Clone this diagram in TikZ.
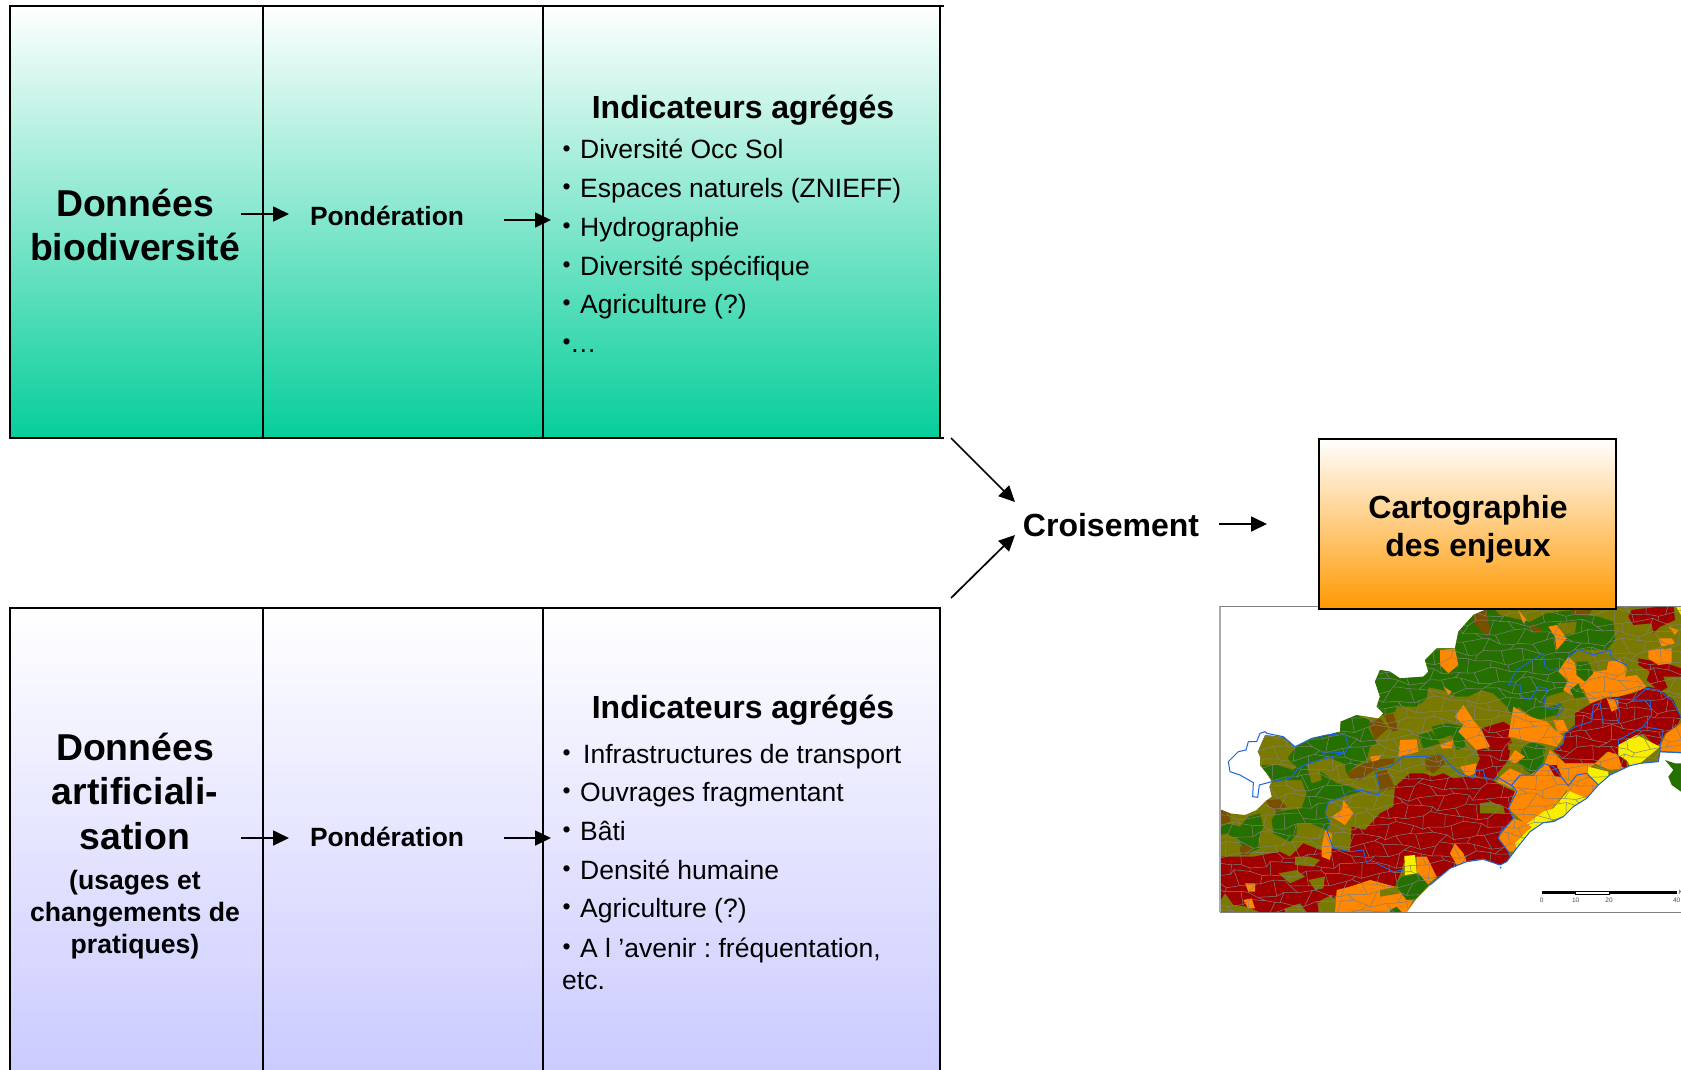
\documentclass[tikz,border=0pt]{standalone}
\usepackage{fontspec}
\setmainfont{Liberation Sans}
\frenchspacing
\usetikzlibrary{arrows.meta}
\definecolor{gbot}{RGB}{6,206,154}
\definecolor{vbot}{RGB}{203,203,255}
\definecolor{obot}{RGB}{255,153,0}
\definecolor{mgreen}{RGB}{38,112,0}
\definecolor{mred}{RGB}{160,0,0}
\definecolor{morange}{RGB}{255,136,0}
\definecolor{myellow}{RGB}{248,238,0}
\definecolor{mbrown}{RGB}{122,80,0}
\definecolor{molive}{RGB}{122,122,0}
\definecolor{mblue}{RGB}{26,102,224}
\pgfdeclareverticalshading{fadegreen}{100bp}{color(0bp)=(gbot); color(25bp)=(gbot); color(75bp)=(white); color(100bp)=(white)}
\pgfdeclareverticalshading{fadeviolet}{100bp}{color(0bp)=(vbot); color(25bp)=(vbot); color(75bp)=(white); color(100bp)=(white)}
\pgfdeclareverticalshading{fadeorange}{100bp}{color(0bp)=(obot); color(25bp)=(obot); color(75bp)=(white); color(100bp)=(white)}
\newcommand{\puce}[1][18pt]{\makebox[#1][l]{\hspace{.5pt}\raisebox{2.4pt}{\fontsize{23}{23}\selectfont •}}}
\newcommand{\landpath}{(30,628)--(60,640)--(105,645)--(140,630)--(165,605)--(185,590)--(178,560)--(185,545)--(170,520)--(150,495)--(150,470)--(143,455)--(165,405)--(220,410)--(255,440)--(305,415)--(350,405)--(390,395)--(392,365)--(440,345)--(505,355)--(520,340)--(500,320)--(510,290)--(495,245)--(510,210)--(540,215)--(570,235)--(640,230)--(655,215)--(645,180)--(680,145)--(735,145)--(745,95)--(790,45)--(825,30)--(835,15)--(1413,15)--(1413,458)--(1350,455)--(1345,485)--(1290,490)--(1260,497)--(1200,525)--(1165,555)--(1130,595)--(1090,620)--(1060,650)--(1030,665)--(1000,668)--(960,695)--(920,745)--(890,785)--(870,795)--(820,778)--(770,785)--(720,805)--(660,855)--(620,895)--(590,937)--(30,937)--cycle}
\tikzset{
  big/.style={font=\fontsize{37.4}{44.5}\selectfont\bfseries,align=center,inner sep=0pt},
  mid/.style={font=\fontsize{32}{38}\selectfont\bfseries,align=center,inner sep=0pt},
  pond/.style={font=\fontsize{26.4}{30}\selectfont\bfseries,inner sep=0pt},
  sub/.style={font=\fontsize{26.6}{32}\selectfont\bfseries,align=center,inner sep=0pt},
  item/.style={font=\fontsize{26.5}{32}\selectfont,anchor=base west,inner sep=0pt,align=left},
  flow/.style={line width=1.7pt,-{Triangle[length=16pt,width=15pt]}},
  thinrule/.style={line width=1.1pt,black},
  thickrule/.style={line width=2pt,black},
  mg/.style={fill=mgreen},mr/.style={fill=mred},mo/.style={fill=morange},
  my/.style={fill=myellow},mb/.style={fill=mbrown},ml/.style={fill=molive},
  bluebd/.style={draw=mblue,line width=1pt,line join=round},
}
\begin{document}
\begin{tikzpicture}[x=1pt,y=-1pt,
  declare function={mx(\a,\b)=\a*34+11*sin(\a*131+\b*77)+7*cos(\a*47-\b*191);
                    my(\a,\b)=\b*29+9*sin(\a*53+\b*211)+5*cos(\a*241+\b*29);}]
\clip (0,0) rectangle (1681,1069);
\fill[white] (0,0) rectangle (1681,1069);

% top panel
\shade[shading=fadegreen] (10,6) rectangle (940,438);
\draw[thinrule] (940,6) -- (10,6) -- (10,438) -- (543,438);
\draw[thinrule] (940,6) -- (940,438);
\draw[thinrule,line width=1.6pt] (263,6) -- (263,438);
\draw[thickrule] (543,6) -- (543,438);
\draw[thickrule] (543,6) -- (944,6);
\draw[thickrule] (543,438) -- (944,438);

% bottom panel
\shade[shading=fadeviolet] (10,608) rectangle (940,1069);
\draw[thinrule] (10,1075) -- (10,608) -- (940,608) -- (940,1075);
\draw[thinrule,line width=1.6pt] (263,608) -- (263,1075);
\draw[thinrule,line width=2pt] (543,608) -- (543,1075);

% map
\fill[white] (1220,606) rectangle (1685,912);
\begin{scope}[shift={(1210,600)},x=.33333pt,y=-.33333pt]
\begin{scope}
\clip (30,19) rectangle (1420,937);
\fill[molive] \landpath;
\fill[mg] (1365,480)--(1395,490)--(1413,490)--(1413,575)--(1385,555)--(1375,530)--(1390,510)--cycle;
\begin{scope}
\clip \landpath;
% greens
\fill[mg] (830,15)--(790,45)--(745,95)--(735,145)--(680,145)--(645,180)--(655,215)--(640,230)--(570,235)--(540,215)--(510,210)--(495,245)--(510,290)--(500,320)--(515,345)--(555,335)--(560,320)--(620,320)--(650,295)--(655,262)--(700,270)--(735,290)--(775,290)--(815,270)--(850,280)--(890,320)--(910,350)--(925,320)--(980,360)--(1040,345)--(1055,310)--(1000,325)--(1010,290)--(1060,275)--(1075,250)--(1045,215)--(1060,190)--(1080,170)--(1105,148)--(1190,150)--(1215,120)--(1210,65)--(1165,50)--(1120,45)--(1090,30)--(1010,40)--(960,65)--(870,45)--(850,25)--cycle;
\fill[mg] (235,470)--(260,440)--(310,415)--(390,395)--(392,365)--(440,345)--(480,360)--(475,385)--(500,430)--(480,440)--(470,480)--(440,495)--(410,520)--(400,490)--(350,470)--(300,490)--(260,500)--(235,480)--cycle;
\fill[mg] (150,495)--(200,495)--(250,510)--(270,490)--(300,500)--(340,520)--(380,550)--(420,560)--(450,575)--(400,590)--(355,605)--(345,640)--(360,665)--(350,690)--(300,670)--(260,670)--(260,700)--(240,725)--(190,700)--(185,660)--(200,635)--(275,625)--(290,580)--(275,540)--(230,540)--(190,545)--cycle;
\fill[mg] (30,680)--(50,670)--(90,680)--(115,650)--(150,640)--(160,680)--(145,720)--(150,745)--(110,760)--(85,720)--(50,700)--(30,705)--cycle;
\fill[mg] (665,380)--(710,370)--(765,380)--(765,440)--(740,450)--(725,405)--(680,420)--cycle;
\fill[mg] (625,405)--(665,395)--(690,430)--(640,445)--cycle;
\fill[mg] (935,445)--(965,425)--(1005,440)--(1000,485)--(965,525)--(925,490)--cycle;
% browns
\fill[mb] (790,40)--(830,30)--(840,100)--(820,100)--(790,65)--cycle;
\fill[mb] (890,30)--(930,45)--(940,35)--(900,25)--cycle;
\fill[mb] (960,70)--(1000,90)--(975,100)--cycle;
\fill[mb] (1080,20)--(1145,30)--(1135,50)--(1085,40)--cycle;
\fill[mb] (475,370)--(510,355)--(535,385)--(495,420)--cycle;
\fill[mb] (520,345)--(550,340)--(565,390)--(545,395)--cycle;
\fill[mb] (410,520)--(480,480)--(555,475)--(550,490)--(500,505)--(450,540)--(420,535)--cycle;
\fill[mb] (500,515)--(530,510)--(555,565)--(510,575)--cycle;
\fill[mb] (645,475)--(690,465)--(705,490)--(670,520)--(650,510)--cycle;
\fill[mb] (30,628)--(60,640)--(60,665)--(30,675)--cycle;
\fill[mb] (165,600)--(205,595)--(230,620)--(200,635)--(180,620)--cycle;
\fill[mb] (90,740)--(125,735)--(120,765)--(90,765)--cycle;
% olive on green
\fill[ml] (870,45)--(960,65)--(1005,40)--(960,25)--(880,25)--cycle;
\fill[ml] (1040,70)--(1100,65)--(1095,100)--(1060,105)--cycle;
\fill[ml] (290,495)--(325,495)--(335,540)--(305,550)--cycle;
\fill[ml] (360,490)--(405,495)--(410,550)--(375,545)--cycle;
% reds
\fill[mr] (425,680)--(465,690)--(510,640)--(550,620)--(555,560)--(600,520)--(640,520)--(670,530)--(700,520)--(730,535)--(770,530)--(810,535)--(845,540)--(880,560)--(915,575)--(895,625)--(910,655)--(870,700)--(865,715)--(895,755)--(900,780)--(880,800)--(820,775)--(760,785)--(690,835)--(675,830)--(650,790)--(620,770)--(580,790)--(575,810)--(555,860)--(480,840)--(420,860)--(375,890)--(330,937)--(230,937)--(30,937)--(30,770)--(100,770)--(130,770)--(210,755)--(240,770)--(280,730)--(330,750)--(370,745)--(420,755)--cycle;
\fill[mr] (815,385)--(880,365)--(905,380)--(895,405)--(905,425)--(895,480)--(870,510)--(850,540)--(800,530)--(795,510)--(810,475)--(795,440)--(840,450)--cycle;
\fill[mr] (1095,340)--(1145,310)--(1185,295)--(1225,290)--(1270,280)--(1310,260)--(1345,265)--(1390,300)--(1413,350)--(1400,380)--(1365,400)--(1350,430)--(1335,440)--(1305,405)--(1280,405)--(1225,440)--(1225,465)--(1190,455)--(1155,490)--(1100,490)--(1065,490)--(1030,450)--(1060,430)--(1065,400)--(1095,375)--cycle;
\fill[mr] (1255,50)--(1265,30)--(1390,15)--(1395,60)--(1350,80)--(1330,100)--(1325,70)--(1270,75)--cycle;
\fill[mr] (1285,175)--(1340,185)--(1385,195)--(1413,205)--(1413,240)--(1385,255)--(1350,275)--(1310,240)--(1320,215)--(1285,195)--cycle;
% olive patches
\fill[ml] (810,610)--(840,605)--(880,620)--(885,640)--(810,640)--cycle;
\fill[ml] (255,770)--(300,770)--(330,780)--(310,800)--(255,795)--cycle;
\fill[ml] (205,820)--(260,810)--(285,830)--(240,850)--cycle;
\fill[ml] (295,840)--(345,830)--(340,865)--(315,870)--cycle;
\fill[ml] (30,905)--(45,880)--(70,915)--(110,920)--(150,937)--(30,937)--cycle;
\fill[ml] (325,905)--(365,885)--(385,937)--(325,937)--cycle;
\fill[ml] (225,925)--(270,910)--(290,937)--(225,937)--cycle;
\fill[ml] (895,430)--(935,430)--(920,450)--(895,450)--cycle;
\fill[ml] (1360,230)--(1413,230)--(1413,300)--(1380,280)--cycle;
% oranges
\fill[mo] (690,150)--(735,145)--(745,195)--(715,220)--(690,195)--cycle;
\fill[mo] (700,260)--(725,275)--(715,285)--cycle;
\fill[mo] (925,30)--(950,60)--(940,70)--cycle;
\fill[mo] (1015,80)--(1040,75)--(1070,115)--(1040,150)--(1035,110)--cycle;
\fill[mo] (1375,80)--(1405,90)--(1395,105)--cycle;
\fill[mo] (1345,115)--(1385,115)--(1395,130)--(1355,140)--cycle;
\fill[mo] (1315,150)--(1385,145)--(1385,190)--(1345,195)--(1315,175)--cycle;
\fill[mo] (1045,215)--(1075,170)--(1095,190)--(1100,225)--(1120,240)--(1150,215)--(1190,210)--(1195,185)--(1230,180)--(1250,205)--(1245,230)--(1280,225)--(1310,260)--(1290,270)--(1225,290)--(1190,290)--(1140,310)--(1120,265)--(1085,285)--(1060,270)--(1075,240)--cycle;
\fill[mg] (1100,185)--(1135,185)--(1150,220)--(1125,245)--(1100,225)--cycle;
\fill[mg] (1080,270)--(1105,250)--(1125,290)--(1095,295)--cycle;
\fill[mo] (1190,295)--(1225,300)--(1225,325)--(1205,335)--cycle;
\fill[mo] (1155,490)--(1195,455)--(1225,465)--(1240,505)--(1200,510)--cycle;
\fill[mo] (1350,440)--(1370,400)--(1413,370)--(1413,458)--(1350,455)--cycle;
\fill[mo] (915,575)--(905,550)--(930,525)--(960,525)--(1000,500)--(1020,450)--(1065,490)--(1100,490)--(1155,490)--(1130,510)--(1165,555)--(1130,595)--(1090,590)--(1070,570)--(1040,610)--(1020,630)--(950,675)--(900,630)--(895,625)--cycle;
\fill[mo] (890,680)--(910,655)--(965,675)--(910,755)--(895,755)--(865,715)--cycle;
\fill[mo] (870,530)--(900,505)--(945,525)--(905,565)--(860,545)--cycle;
\fill[mo] (760,315)--(790,360)--(810,385)--(840,440)--(800,450)--(770,420)--(745,395)--(760,375)--(735,350)--cycle;
\fill[mo] (910,320)--(960,350)--(1010,365)--(1035,390)--(1060,410)--(1040,440)--(1000,430)--(960,425)--(895,410)--cycle;
\fill[mo] (1030,360)--(1060,360)--(1075,395)--(1045,400)--cycle;
\fill[mo] (895,480)--(915,450)--(945,470)--(915,490)--cycle;
\fill[mo] (750,500)--(800,490)--(795,520)--(770,530)--cycle;
\fill[mo] (690,435)--(730,420)--(725,445)--(695,445)--cycle;
\fill[mo] (570,420)--(620,418)--(625,455)--(565,470)--cycle;
\fill[mo] (480,470)--(515,465)--(505,480)--(485,485)--cycle;
\fill[mo] (345,690)--(365,700)--(365,750)--(360,780)--(335,770)--(335,740)--cycle;
\fill[mo] (400,600)--(430,640)--(405,675)--(365,650)--(395,630)--cycle;
\fill[mo] (105,850)--(135,850)--(135,875)--(115,875)--cycle;
\fill[mo] (100,900)--(125,895)--(135,925)--(115,925)--cycle;
\fill[mo] (620,770)--(650,770)--(680,830)--(650,855)--(620,820)--cycle;
\fill[mo] (735,730)--(760,760)--(770,785)--(740,795)--(720,760)--cycle;
\fill[mo] (380,870)--(420,860)--(480,840)--(555,860)--(590,900)--(610,900)--(590,937)--(375,937)--cycle;
\fill[ml] (510,870)--(560,860)--(570,880)--(510,890)--cycle;
\fill[mg] (575,830)--(625,820)--(655,855)--(620,895)--(590,900)--(557,855)--cycle;
\fill[mg] (540,930)--(560,920)--(575,937)--(540,937)--cycle;
% yellows and dark spot
\fill[mr] (1015,495)--(1040,495)--(1055,530)--(1035,530)--cycle;
\fill[mr] (1225,465)--(1250,485)--(1250,505)--(1235,500)--cycle;
\fill[my] (1225,435)--(1280,405)--(1310,420)--(1350,440)--(1290,490)--(1260,497)--(1250,480)--(1225,465)--cycle;
\fill[my] (1075,572)--(1130,595)--(1090,620)--(1060,650)--(1030,660)--(1000,668)--(960,695)--(920,745)--(915,730)--(965,680)--(950,672)--(1000,635)--(1030,625)--cycle;
\fill[my] (1135,500)--(1195,515)--(1195,530)--(1165,555)--(1130,520)--cycle;
\fill[my] (583,768)--(615,765)--(620,820)--(585,825)--cycle;
\fill[my] (1395,15)--(1413,15)--(1413,45)--cycle;
% commune boundaries
\foreach \i in {0,...,42}{
  \foreach \j in {0,...,32}{
    \draw[gray,line width=.5pt] ({mx(\i,\j)+20},{my(\i,\j)+10}) -- ({mx(\i+1,\j)+20},{my(\i+1,\j)+10});
    \pgfmathparse{int(mod(\i+\j,2))}
    \ifnum\pgfmathresult=0
      \draw[gray,line width=.5pt] ({mx(\i,\j)+20},{my(\i,\j)+10}) -- ({mx(\i,\j+1)+20},{my(\i,\j+1)+10});
    \fi
  }
}
\end{scope}
% blue boundaries
\draw[bluebd] (165,395)--(150,400)--(140,425)--(115,425)--(108,450)--(85,455)--(55,485)--(60,515)--(90,525)--(130,548)--(128,590)--(143,592)--(148,555)--(185,545)--(240,535)--(265,505)--(295,490)--(350,475)--(335,455)--(405,458)--(415,440)--(405,400)--(350,405)--(305,415)--(255,440)--(220,410)--(170,400)--cycle;
\draw[bluebd] (350,475)--(405,458);
\draw[bluebd] (580,810)--(550,815)--(500,790)--(470,790)--(460,750)--(420,755)--(370,745)--(350,690)--(360,670)--(345,640)--(355,605)--(400,590)--(415,575)--(450,570)--(505,585)--(510,565)--(495,510)--(540,500)--(580,470)--(640,470)--(680,465)--(695,465)--(715,490)--(750,520)--(790,535)--(800,510)--(820,510)--(825,535)--(850,540)--(860,530)--(910,560)--(920,575)--(895,625)--(910,655)--(870,700)--(865,715)--(895,755)--(900,770);
\draw[bluebd] (905,555)--(930,525)--(970,525)--(1000,490)--(1030,500)--(1075,558)--(1100,525)--(1130,520)--(1165,555);
\draw[bluebd] (1035,450)--(1060,430)--(1065,400)--(1095,380)--(1145,365)--(1150,315)--(1170,310)--(1180,370)--(1225,370)--(1230,340)--(1215,295)--(1270,300)--(1310,265)--(1345,270)--(1385,300)--(1413,350);
\draw[bluebd] (1270,300)--(1320,300)--(1325,345)--(1300,380)--(1225,420)--(1225,435);
\draw[bluebd] (1300,380)--(1360,390)--(1350,440)--(1350,455)--(1413,458);
\draw[bluebd] (895,255)--(920,210)--(1000,160)--(1005,200)--(1020,210)--(1045,205);
\draw[bluebd] (895,255)--(930,255)--(935,290)--(960,300)--(985,260)--(1010,265)--(1000,320)--(1030,330)--(1045,310)--(1060,325)--(1040,350);
\draw[bluebd] (1075,170)--(1105,148)--(1150,165)--(1200,150)--(1205,175)--(1250,195);
\draw[bluebd] (1413,458)--(1350,455)--(1345,485)--(1290,490)--(1260,497)--(1200,525)--(1165,555)--(1130,595)--(1090,620)--(1060,650)--(1030,665)--(1000,668)--(960,695)--(920,745)--(890,785)--(870,795)--(820,778)--(770,785)--(720,805)--(660,855);
\fill[mblue] (872,803) circle (3);
\end{scope}
% scale bar
\fill[black] (995,873) rectangle (1097,883);
\draw[black,line width=.5pt,fill=white] (1097,874) rectangle (1197,882);
\fill[black] (1197,873) rectangle (1400,883);
\foreach \xx/\lab/\nm in {995/0/sa,1097/10/sb,1197/20/sc,1400/40/sd}
  \node[font=\fontsize{6.5}{7}\selectfont,text=black!70,inner sep=0pt] (\nm) at (\xx,900) {\lab};
\node[font=\fontsize{6.5}{7}\selectfont,text=black!70,inner sep=0pt,anchor=west] (sk) at (1405,877) {K};
\end{scope}
% map frame
\draw[line width=1.6pt,black!33] (1220,606) -- (1220,912);
\draw[line width=.9pt,black!50] (1220,606) -- (1685,606);
\draw[line width=.9pt,black!50] (1220,912) -- (1685,912);

% result box
\shade[shading=fadeorange] (1319,439) rectangle (1616,609);
\draw[thinrule] (1319,439) rectangle (1616,609);

% labels
\node[big] (db) at (135,225) {Données\\biodiversité};
\node[pond] (p1) at (387,216) {Pondération};
\node[mid] (ia1) at (743,110.5) {Indicateurs agrégés};
\node[item] (i1) at (562,158.5) {\puce Diversité Occ Sol};
\node[item] (i2) at (562,197) {\puce Espaces naturels (ZNIEFF)};
\node[item] (i3) at (562,236) {\puce Hydrographie};
\node[item] (i4) at (562,275) {\puce Diversité spécifique};
\node[item] (i5) at (562,313) {\puce Agriculture (?)};
\node[item] (i6) at (562,352) {\puce[8pt]…};

\node[big] (da) at (135,791) {Données\\artificiali-\\sation};
\node[sub] (du) at (135,915) {(usages et\\changements de\\pratiques)};
\node[pond] (p2) at (387,837) {Pondération};
\node[mid] (ia2) at (743,710) {Indicateurs agrégés};
\node[item] (j1) at (562,763) {\puce[21pt]Infrastructures de transport};
\node[item] (j2) at (562,801) {\puce Ouvrages fragmentant};
\node[item] (j3) at (562,840) {\puce Bâti};
\node[item] (j4) at (562,879) {\puce Densité humaine};
\node[item] (j5) at (562,917) {\puce Agriculture (?)};
\node[item] (j6) at (562,957) {\puce A l ’avenir : fréquentation,};
\node[item] (j7) at (562,989) {etc.};

\node[mid] (cr) at (1111,525) {Croisement};
\node[mid] (ca) at (1468,529) {Cartographie\\des enjeux};

% connectors
\coordinate (a1s) at (241,214); \coordinate (a1e) at (289,214);
\coordinate (a2s) at (504,220); \coordinate (a2e) at (551,220);
\coordinate (b1s) at (241,838); \coordinate (b1e) at (289,838);
\coordinate (b2s) at (504,838); \coordinate (b2e) at (551,838);
\coordinate (c1s) at (951,438); \coordinate (c1e) at (1015,502);
\coordinate (c2s) at (951,598); \coordinate (c2e) at (1015,535);
\coordinate (c3s) at (1219,524); \coordinate (c3e) at (1267,524);
\foreach \s/\e in {a1s/a1e,a2s/a2e,b1s/b1e,b2s/b2e,c1s/c1e,c2s/c2e,c3s/c3e}
  \draw[flow] (\s) -- (\e);
\end{tikzpicture}
\end{document}
